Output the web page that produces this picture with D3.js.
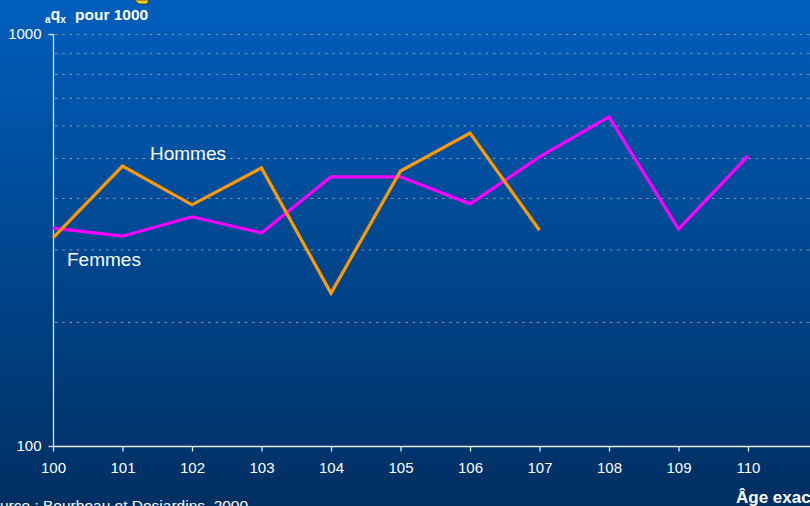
<!DOCTYPE html>
<html><head><meta charset="utf-8">
<script src="https://cdn.jsdelivr.net/npm/d3@7"></script>
<style>html,body{margin:0;padding:0;background:#003366;}svg{display:block;}</style>
</head><body>
<svg id="c" width="810" height="506"></svg>
<script>
const ages = [100,101,102,103,104,105,106,107,108,109,110];
const hommes = [320,478,385,473,235,465,575,334];
const femmes = [338,323,360,329,450,450,387,503,629,336,506];
const yTicks = [100,1000];
const gridVals = [200,300,400,500,600,700,800,900,1000];

const svg = d3.select("#c");
const W = 810, H = 506;
const defs = svg.append("defs");
const g = defs.append("linearGradient").attr("id","bg").attr("x1",0).attr("y1",0).attr("x2",0).attr("y2",1);
g.append("stop").attr("offset","0%").attr("stop-color","#005ebd");
g.append("stop").attr("offset","100%").attr("stop-color","#002f62");
svg.append("rect").attr("width",W).attr("height",H).attr("fill","url(#bg)");

const x = d3.scaleLinear().domain([100,111]).range([53,817.5]);
const y = d3.scaleLog().domain([100,1000]).range([446,34]);

// grid
svg.append("g").selectAll("line").data(gridVals).join("line")
  .attr("x1",55).attr("x2",W).attr("y1",d=>y(d)+0.5).attr("y2",d=>y(d)+0.5)
  .attr("stroke","#8a9bb0").attr("stroke-width",1).attr("stroke-dasharray","2.5,4.8");

// axes
const font = "Arial, 'Liberation Sans', sans-serif";
const yAxis = d3.axisLeft(y).tickValues(yTicks).tickFormat(d3.format("d")).tickSize(5).tickPadding(7);
const ya = svg.append("g").attr("transform","translate(53.5,0)").call(yAxis);
const xAxis = d3.axisBottom(x).tickValues(ages).tickFormat(d3.format("d")).tickSize(5).tickPadding(11);
const xa = svg.append("g").attr("transform","translate(0,446.5)").call(xAxis);
[ya,xa].forEach(a=>{
  a.select(".domain").attr("stroke","#e6ecf5").attr("stroke-width",1.3);
  a.selectAll(".tick line").attr("stroke","#e6ecf5").attr("stroke-width",1.3);
  a.selectAll("text").attr("fill","#ffffff").attr("font-family",font).attr("font-size",15);
});
ya.select(".domain").attr("d","M0,"+y(100)+"V"+y(1000));
xa.select(".domain").attr("d","M53,0H"+W);

// lines
const line = d3.line().x((d,i)=>x(ages[i])).y(d=>y(d));
svg.append("path").datum(femmes).attr("d",line).attr("fill","none")
  .attr("stroke","#ff00ff").attr("stroke-width",3.2).attr("stroke-linejoin","miter");
svg.append("path").datum(hommes).attr("d",line).attr("fill","none")
  .attr("stroke","#ff9900").attr("stroke-width",3.2).attr("stroke-linejoin","miter");

// labels
svg.append("text").attr("x",150).attr("y",160).text("Hommes")
  .attr("fill","#fff").attr("font-family",font).attr("font-size",19);
svg.append("text").attr("x",67).attr("y",266).text("Femmes")
  .attr("fill","#fff").attr("font-family",font).attr("font-size",19);

// y title
const t = svg.append("text").attr("x",45).attr("y",20).attr("fill","#fff")
  .attr("font-family",font).attr("font-weight","bold").attr("font-size",16);
t.append("tspan").attr("font-size",10).attr("dy",3).text("a");
t.append("tspan").attr("dy",-3).text("q");
t.append("tspan").attr("font-size",10).attr("dy",3).text("x");
t.append("tspan").attr("dy",-3).attr("x",75).attr("font-size",15.5).text("pour 1000");

// x title
svg.append("text").attr("x",736).attr("y",503).text("Âge exact")
  .attr("fill","#fff").attr("font-family",font).attr("font-weight","bold").attr("font-size",17);

// source
svg.append("text").attr("x",-19).attr("y",511).text("Source : Bourbeau et Desjardins, 2000")
  .attr("fill","#fff").attr("font-family",font).attr("font-size",15.5);

// clipped yellow decoration at top
svg.append("path").attr("d","M134,0 L149,0 L147,4 L139,4 Z").attr("fill","#f2d21b").attr("stroke","#333").attr("stroke-width",0.8);
</script>
</body></html>
